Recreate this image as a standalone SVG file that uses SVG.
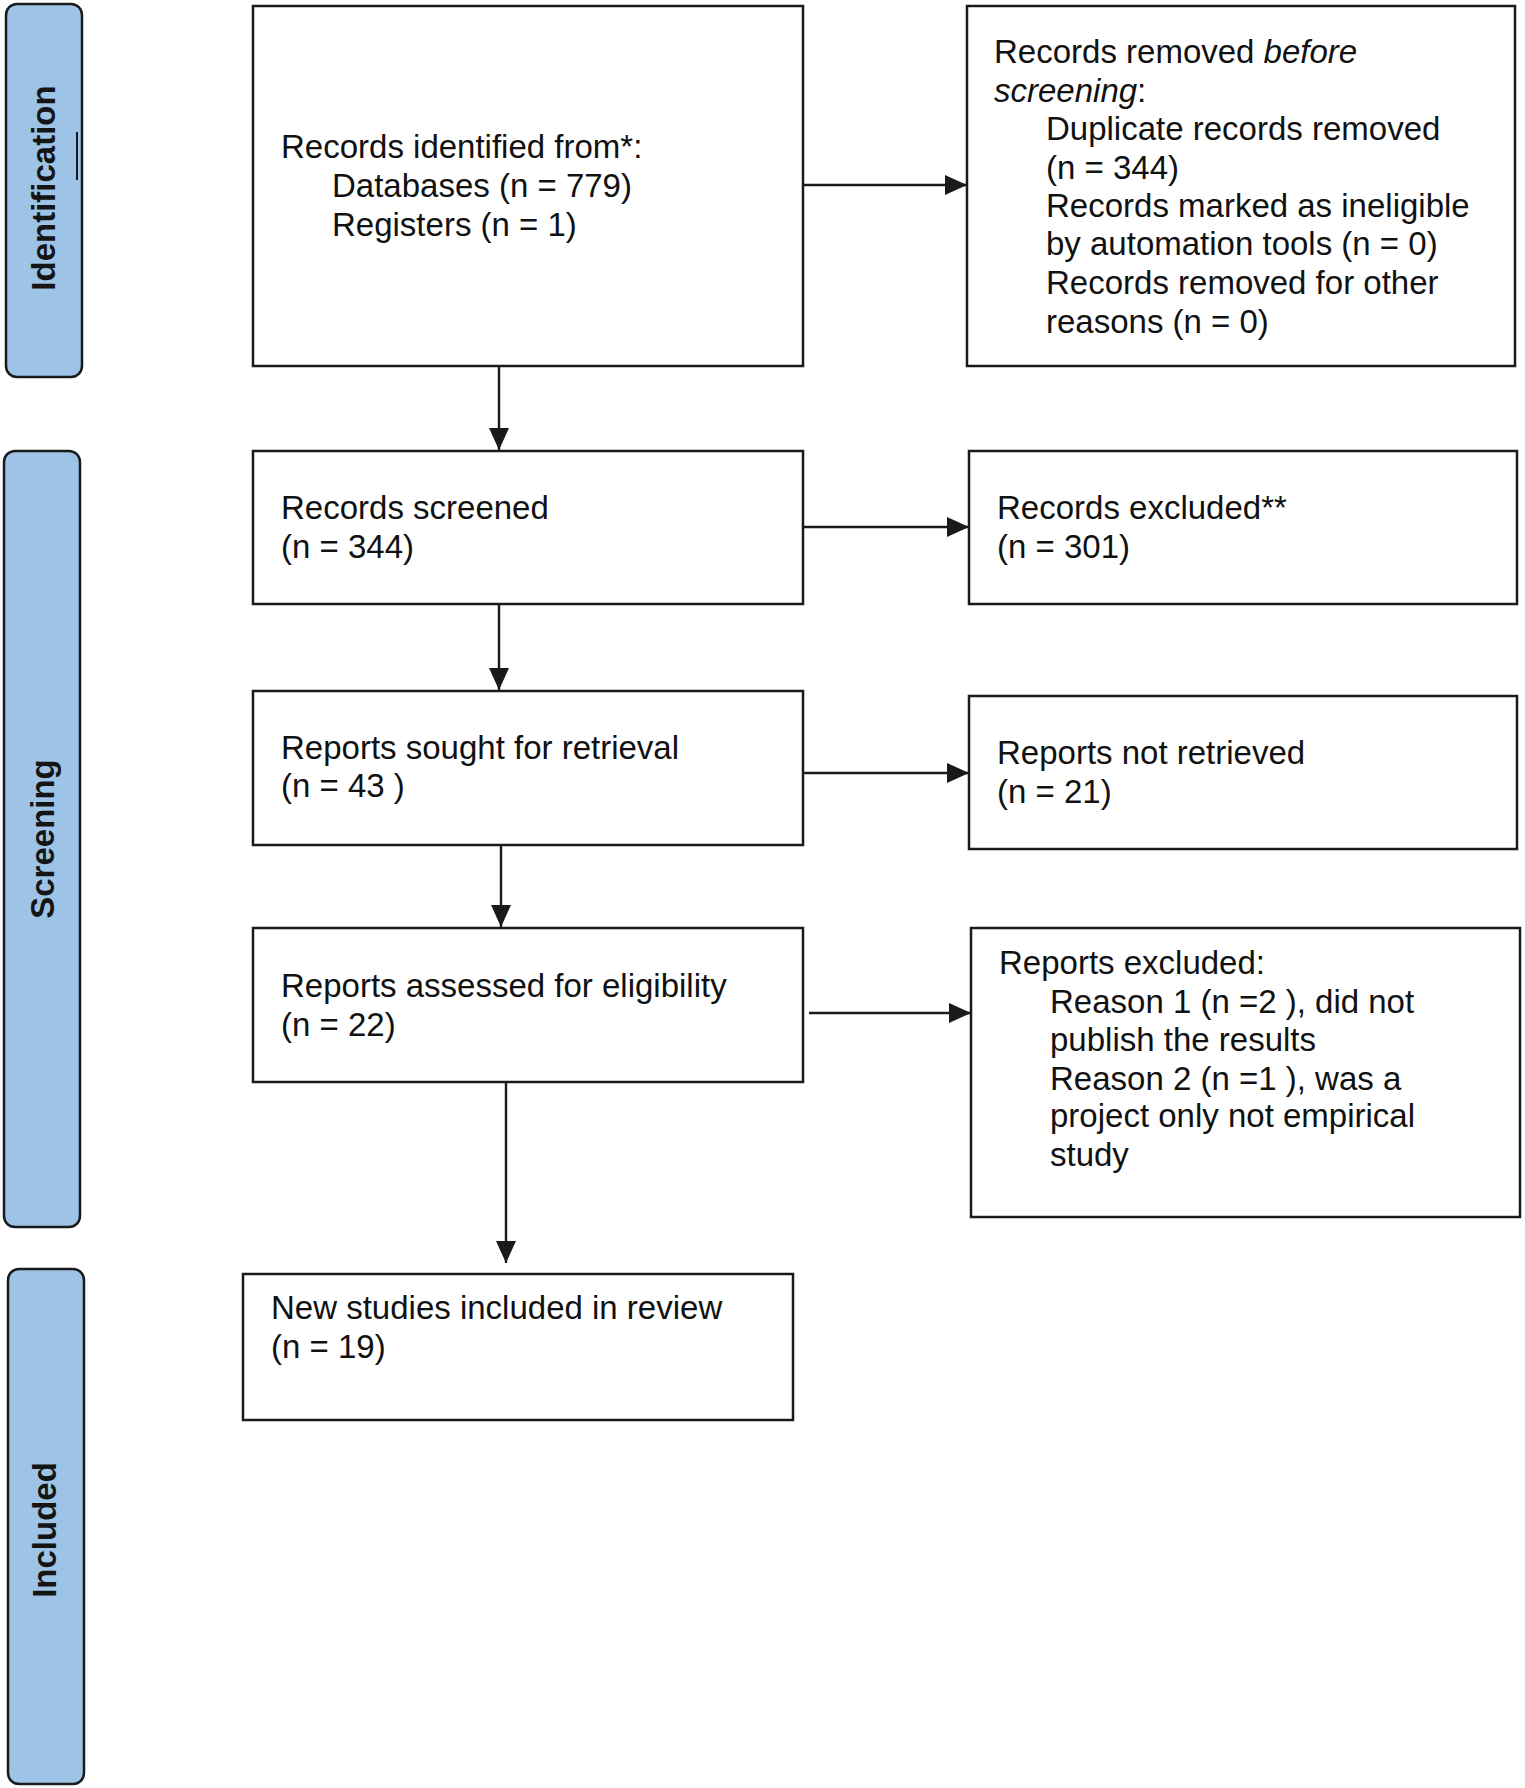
<svg xmlns="http://www.w3.org/2000/svg" width="1525" height="1788" viewBox="0 0 1525 1788">
<style>
.box{fill:#fff;stroke:#1a1a1a;stroke-width:2.5}
.lane{fill:#9dc3e6;stroke:#1a1a1a;stroke-width:2.5}
.t{font-family:"Liberation Sans",Arial,sans-serif;font-size:33px;fill:#111}
.lt{font-family:"Liberation Sans",Arial,sans-serif;font-size:33px;font-weight:bold;fill:#151515;text-anchor:middle}
.c{stroke:#1a1a1a;stroke-width:2.4;fill:none}
.i{font-style:italic}
</style>
<defs>
<marker id="ah" markerWidth="22" markerHeight="20" refX="22" refY="10" orient="auto" markerUnits="userSpaceOnUse">
<path d="M0,0 L22,10 L0,20 Z" fill="#1a1a1a"/>
</marker>
</defs>
<rect width="1525" height="1788" fill="#fff"/>

<g id="lane-identification">
<rect class="lane" x="6" y="4" width="76" height="373" rx="11"/>
<line x1="77" y1="132" x2="77" y2="180" stroke="#1a1a1a" stroke-width="2"/>
<text class="lt" transform="translate(55,188) rotate(-90)">Identification</text>
</g>
<g id="lane-screening">
<rect class="lane" x="4" y="451" width="76" height="776" rx="11"/>
<text class="lt" transform="translate(54,839) rotate(-90)">Screening</text>
</g>
<g id="lane-included">
<rect class="lane" x="8" y="1269" width="76" height="515" rx="11"/>
<text class="lt" transform="translate(56,1530) rotate(-90)">Included</text>
</g>

<g id="connectors">
<line class="c" x1="803" y1="185" x2="967" y2="185" marker-end="url(#ah)"/>
<line class="c" x1="499" y1="366" x2="499" y2="450" marker-end="url(#ah)"/>
<line class="c" x1="803" y1="527" x2="969" y2="527" marker-end="url(#ah)"/>
<line class="c" x1="499" y1="604" x2="499" y2="690" marker-end="url(#ah)"/>
<line class="c" x1="804" y1="773" x2="969" y2="773" marker-end="url(#ah)"/>
<line class="c" x1="501" y1="845" x2="501" y2="927" marker-end="url(#ah)"/>
<line class="c" x1="809" y1="1013" x2="971" y2="1013" marker-end="url(#ah)"/>
<line class="c" x1="506" y1="1082" x2="506" y2="1263" marker-end="url(#ah)"/>
</g>

<g id="records-identified">
<rect class="box" x="253" y="6" width="550" height="360"/>
<text class="t" x="281" y="158">Records identified from*:</text>
<text class="t" x="332" y="197">Databases (n = 779)</text>
<text class="t" x="332" y="236">Registers (n = 1)</text>
</g>

<g id="records-removed">
<rect class="box" x="967" y="6" width="548" height="360"/>
<text class="t" x="994" y="63">Records removed <tspan class="i">before</tspan></text>
<text class="t" x="994" y="102"><tspan class="i">screening</tspan>:</text>
<text class="t" x="1046" y="140">Duplicate records removed</text>
<text class="t" x="1046" y="179">(n = 344)</text>
<text class="t" x="1046" y="217">Records marked as ineligible</text>
<text class="t" x="1046" y="255">by automation tools (n = 0)</text>
<text class="t" x="1046" y="294">Records removed for other</text>
<text class="t" x="1046" y="333">reasons (n = 0)</text>
</g>

<g id="records-screened">
<rect class="box" x="253" y="451" width="550" height="153"/>
<text class="t" x="281" y="519">Records screened</text>
<text class="t" x="281" y="558">(n = 344)</text>
</g>

<g id="records-excluded">
<rect class="box" x="969" y="451" width="548" height="153"/>
<text class="t" x="997" y="519">Records excluded**</text>
<text class="t" x="997" y="558">(n = 301)</text>
</g>

<g id="reports-sought">
<rect class="box" x="253" y="691" width="550" height="154"/>
<text class="t" x="281" y="759">Reports sought for retrieval</text>
<text class="t" x="281" y="797">(n = 43 )</text>
</g>

<g id="reports-not-retrieved">
<rect class="box" x="969" y="696" width="548" height="153"/>
<text class="t" x="997" y="764">Reports not retrieved</text>
<text class="t" x="997" y="803">(n = 21)</text>
</g>

<g id="reports-assessed">
<rect class="box" x="253" y="928" width="550" height="154"/>
<text class="t" x="281" y="997">Reports assessed for eligibility</text>
<text class="t" x="281" y="1036">(n = 22)</text>
</g>

<g id="reports-excluded">
<rect class="box" x="971" y="928" width="549" height="289"/>
<text class="t" x="999" y="974">Reports excluded:</text>
<text class="t" x="1050" y="1013">Reason 1 (n =2 ), did not</text>
<text class="t" x="1050" y="1051">publish the results</text>
<text class="t" x="1050" y="1090">Reason 2 (n =1 ), was a</text>
<text class="t" x="1050" y="1127">project only not empirical</text>
<text class="t" x="1050" y="1166">study</text>
</g>

<g id="studies-included">
<rect class="box" x="243" y="1274" width="550" height="146"/>
<text class="t" x="271" y="1319">New studies included in review</text>
<text class="t" x="271" y="1358">(n = 19)</text>
</g>
</svg>
